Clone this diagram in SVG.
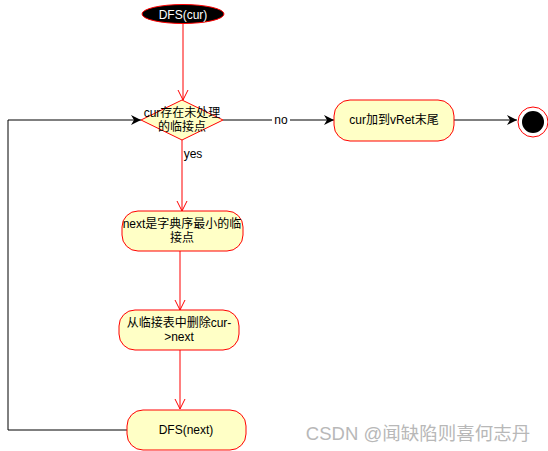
<svg xmlns="http://www.w3.org/2000/svg" width="548" height="451" viewBox="0 0 548 451">
<style>
.box{fill:#FFFFC6;stroke:#FF0000;stroke-width:1}
.t{font-family:"Liberation Sans","Noto Sans CJK SC",sans-serif;font-size:12px;fill:#000;text-anchor:middle}
.red{stroke:#FF0000;stroke-width:1;fill:none}
.blk{stroke:#000;stroke-width:1;fill:none}
</style>
<defs>
<marker id="vr" markerWidth="12" markerHeight="12" refX="10" refY="6" orient="auto" markerUnits="userSpaceOnUse">
<path d="M0,1 L10,6 L0,11" fill="none" stroke="#FF0000" stroke-width="1"/>
</marker>
<marker id="fb" markerWidth="12" markerHeight="12" refX="10" refY="5" orient="auto" markerUnits="userSpaceOnUse">
<path d="M0,0 L10,5 L0,10 L3,5 Z" fill="#000"/>
</marker>
</defs>
<rect width="548" height="451" fill="#fff"/>
<g id="connectors">
<line class="red" x1="183" y1="24" x2="183" y2="100" marker-end="url(#vr)"/>
<line class="blk" x1="223" y1="120" x2="334" y2="120" marker-end="url(#fb)"/>
<line class="red" x1="182" y1="140" x2="182" y2="211" marker-end="url(#vr)"/>
<line class="red" x1="180" y1="251" x2="180" y2="310" marker-end="url(#vr)"/>
<line class="red" x1="180" y1="350" x2="180" y2="409" marker-end="url(#vr)"/>
<line class="blk" x1="454" y1="120" x2="517" y2="120" marker-end="url(#fb)"/>
<polyline class="blk" points="127,430 8,430 8,120 141,120" marker-end="url(#fb)"/>
<rect x="272" y="113" width="18" height="14" fill="#fff"/>
<text class="t" x="281" y="124">no</text>
<text class="t" x="193" y="158">yes</text>
</g>
<g id="start">
<ellipse cx="183" cy="14" rx="41" ry="9.5" fill="#000" stroke="#FF0000"/>
<text class="t" x="183" y="19" style="fill:#fff">DFS(cur)</text>
</g>
<g id="decision">
<polygon class="box" points="182,100 223,120 182,140 141,120"/>
<text class="t" x="182" y="117">cur存在未处理</text>
<text class="t" x="182" y="131">的临接点</text>
</g>
<g id="append">
<rect class="box" x="334" y="100" width="120" height="41" rx="16"/>
<text class="t" x="394" y="124">cur加到vRet末尾</text>
</g>
<g id="end">
<circle cx="533" cy="122" r="15" fill="#fff" stroke="#FF0000"/>
<circle cx="533" cy="122" r="11" fill="#000"/>
</g>
<g id="pick">
<rect class="box" x="122" y="211" width="121" height="40" rx="16"/>
<text class="t" x="182" y="228">next是字典序最小的临</text>
<text class="t" x="182" y="242">接点</text>
</g>
<g id="remove">
<rect class="box" x="119" y="310" width="120" height="40" rx="16"/>
<text class="t" x="179" y="327">从临接表中删除cur-</text>
<text class="t" x="179" y="341">&gt;next</text>
</g>
<g id="recurse">
<rect class="box" x="127" y="410" width="119" height="40" rx="16"/>
<text class="t" x="186" y="434">DFS(next)</text>
</g>
<text x="418" y="440" style="font-family:'Liberation Sans','Noto Sans CJK SC',sans-serif;font-size:18.5px;fill:#B8B8B8;text-anchor:middle">CSDN @闻缺陷则喜何志丹</text>
</svg>
